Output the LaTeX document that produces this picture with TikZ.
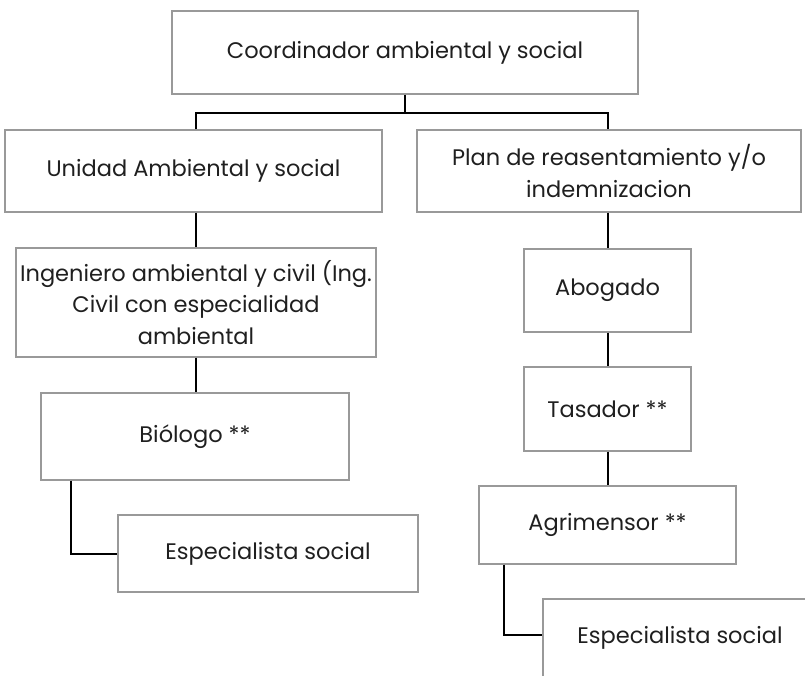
\documentclass[tikz,border=0pt]{standalone}
\usepackage{fontspec}
\setmainfont{Poppins}
\usetikzlibrary{positioning}
\begin{document}
\begin{tikzpicture}[x=1pt,y=-1pt,
  box/.style={draw=black!40, line width=1.2pt, rectangle, inner sep=0pt, align=center,
    font=\fontsize{22.5}{31.5}\selectfont, text=black!88},
  conn/.style={draw=black, line width=2pt}]
\useasboundingbox (0,0) rectangle (805,676);
\clip (0,0) rectangle (805,676);
% boxes
\node[box, minimum width=466pt, minimum height=83pt] (top) at (405,52.5) {Coordinador ambiental y social};
\node[box, minimum width=377pt, minimum height=82pt] (unidad) at (193.5,171) {Unidad Ambiental y social};
\node[box, minimum width=384pt, minimum height=82pt] (plan) at (609,171) {Plan de reasentamiento y/o\\indemnizacion};
\node[box, minimum width=360pt, minimum height=109pt] (ing) at (196,302.5) {Ingeniero ambiental y civil (Ing.\\Civil con especialidad\\ambiental};
\node[box, minimum width=308pt, minimum height=87pt] (bio) at (195,436.5) {Biólogo **};
\node[box, minimum width=300pt, minimum height=77pt] (esp1) at (268,553.5) {Especialista social};
\node[box, minimum width=167pt, minimum height=83pt] (abog) at (607.5,290.5) {Abogado};
\node[box, minimum width=167pt, minimum height=84pt] (tas) at (607.5,409) {Tasador **};
\node[box, minimum width=257pt, minimum height=78pt] (agri) at (607.5,525) {Agrimensor **};
\node[box, minimum width=274pt, minimum height=78pt] (esp2) at (680,638) {Especialista social};
% connectors
\coordinate (j) at (405,113);
\draw[conn] (top.south) -- (j);
\draw[conn] (ing.north |- unidad.north) |- (j) -| (abog.north |- plan.north);
\draw[conn] (ing.north |- unidad.south) -- (ing.north);
\draw[conn] (abog.north |- plan.south) -- (abog.north);
\draw[conn] (ing.south) -- (ing.south |- bio.north);
\draw[conn] (abog.south) -- (tas.north);
\draw[conn] (tas.south) -- (agri.north);
\draw[conn] ([xshift=31pt]bio.south west) |- (esp1.west);
\draw[conn] ([xshift=26pt]agri.south west) |- ([yshift=3pt]esp2.west);
\end{tikzpicture}
\end{document}
